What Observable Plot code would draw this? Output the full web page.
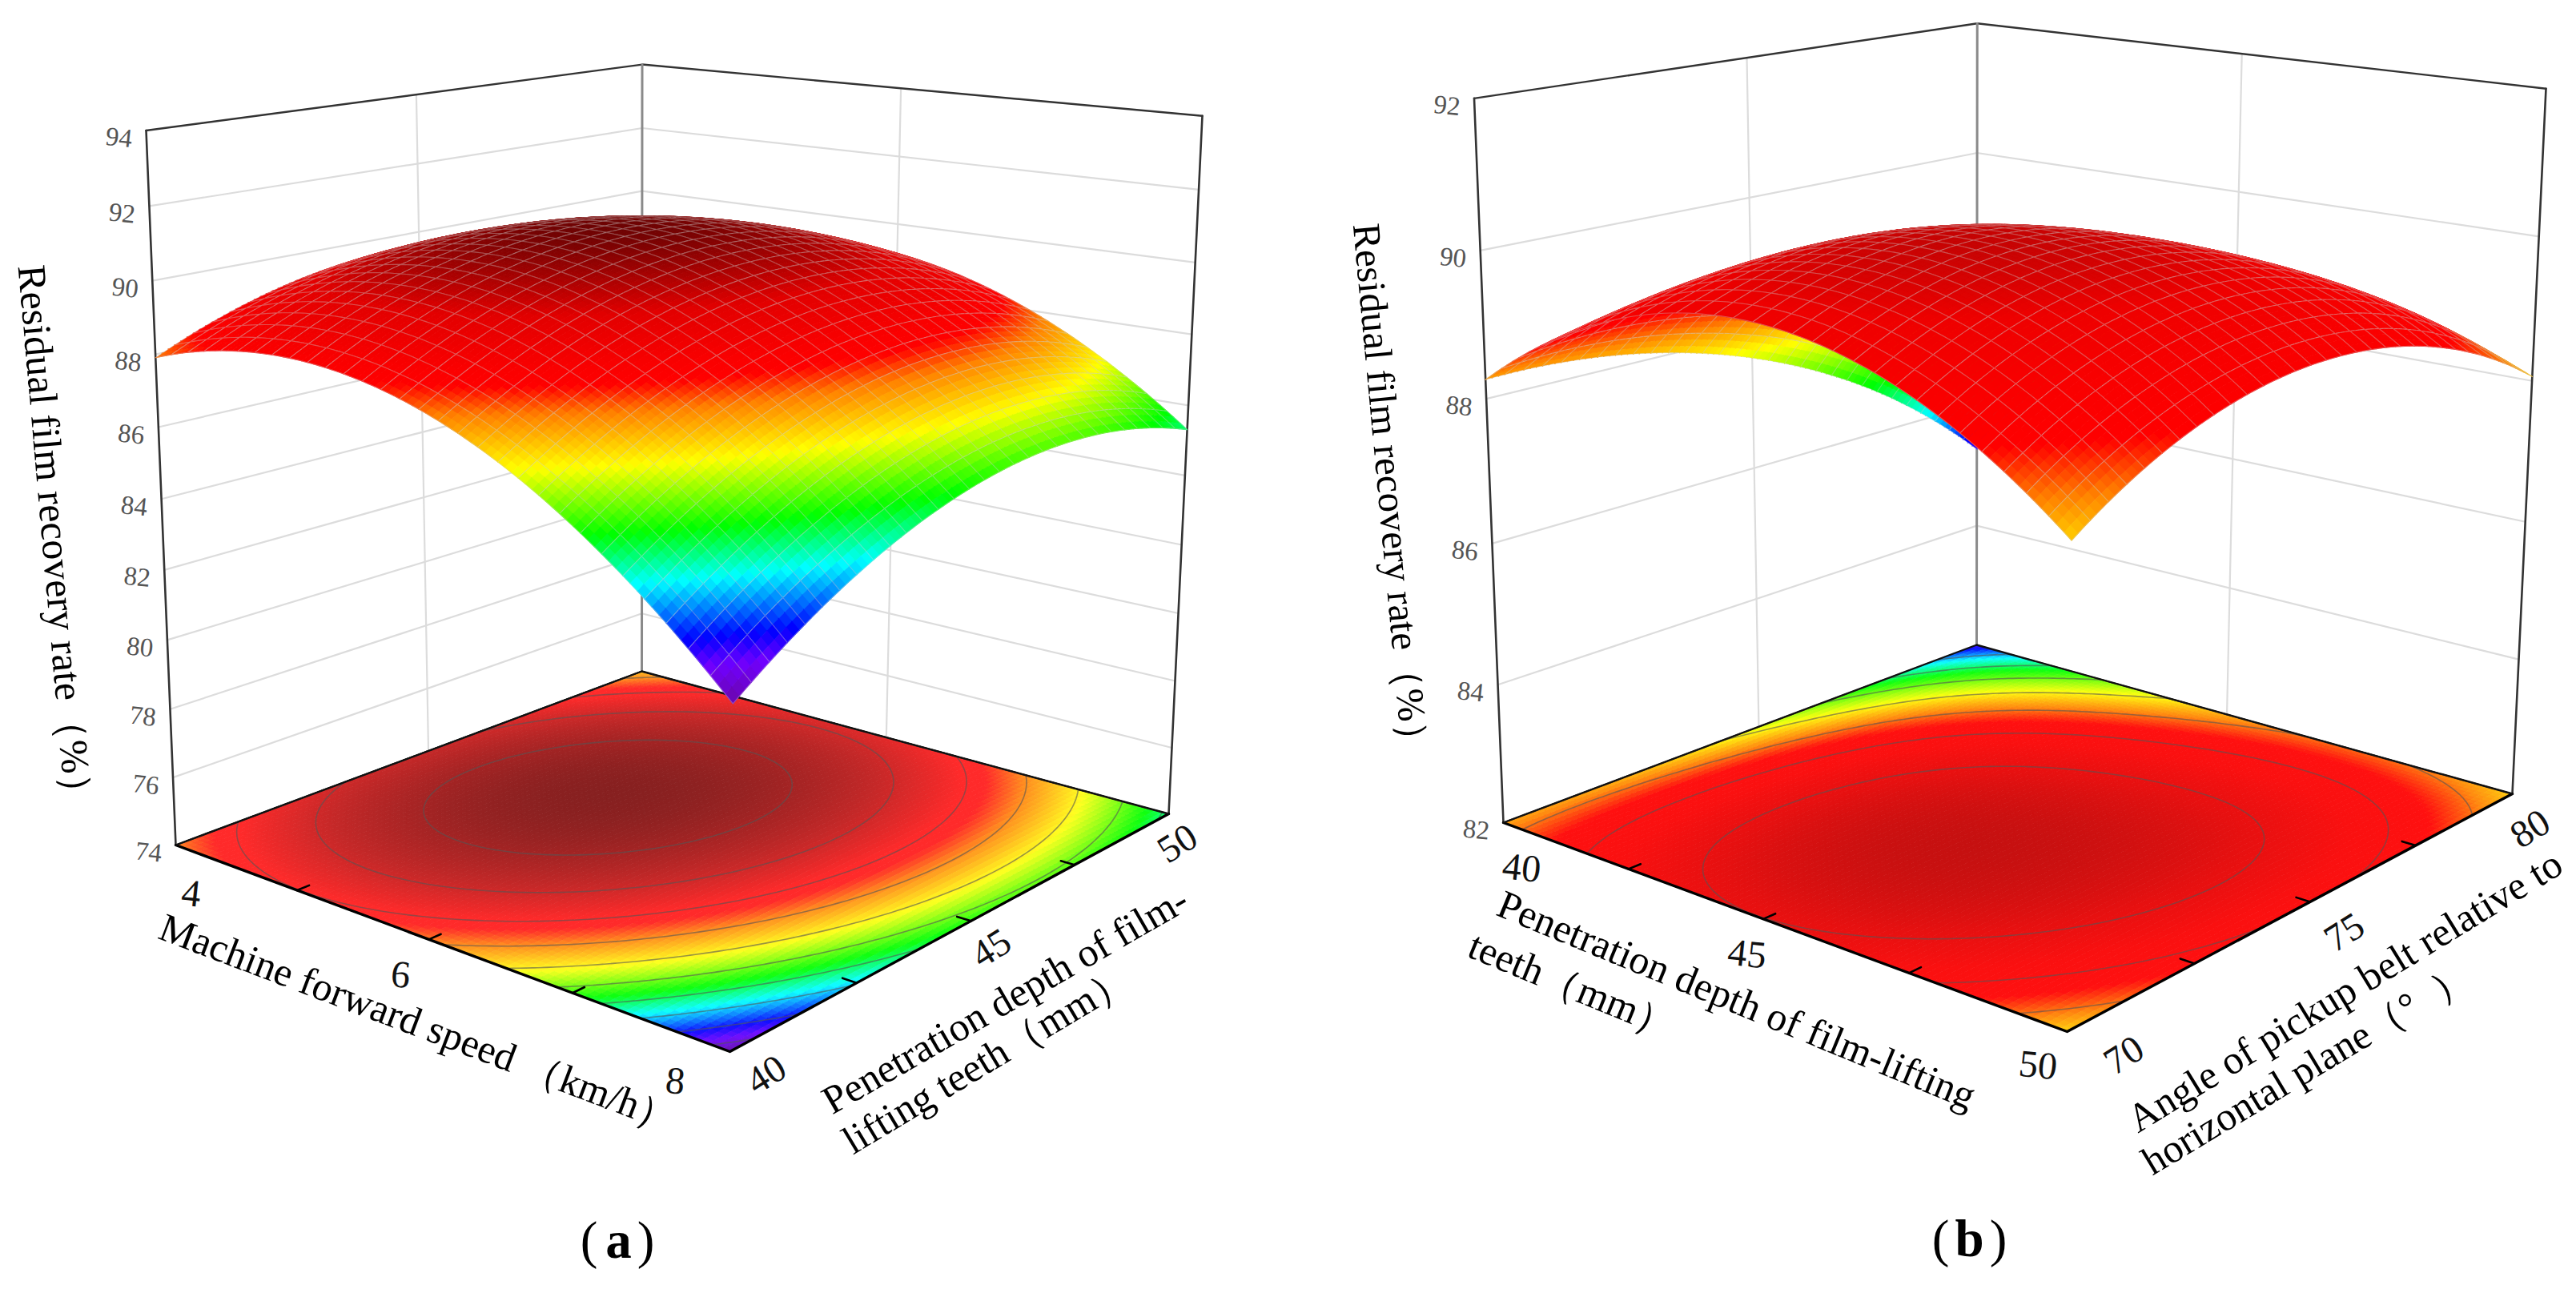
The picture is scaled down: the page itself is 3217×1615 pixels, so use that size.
<!DOCTYPE html>
<html><head><meta charset="utf-8">
<script src="https://cdn.jsdelivr.net/npm/d3@7"></script>
<script src="https://cdn.jsdelivr.net/npm/@observablehq/plot@0.6"></script>
<style>
html,body{margin:0;padding:0;background:#fff}
#page{display:flex;width:3217px;height:1615px;overflow:hidden}
svg{display:block;background:#fff}
</style></head><body><div id="page"></div>
<script>
// ---- values ----
const speedTicks=[4,6,8], depthTicks=[40,45,50], angleTicks=[70,75,80];
const rateTicksA=[74,76,78,80,82,84,86,88,90,92,94];
const rateTicksB=[82,84,86,88,90,92];
// response at the floor tick crossings: rows = x axis ticks (low→high), columns = y axis ticks (low→high)
const surfaceA=[
 [87.91,89.24,89.60,89.02,87.47],
 [88.63,90.16,90.72,90.33,88.98],
 [87.99,89.71,90.47,90.28,89.12],
 [85.98,87.90,88.85,88.86,87.90],
 [82.61,84.72,85.87,86.07,85.31]];
const surfaceB=[
 [88.26,88.15,87.65,86.72,85.26],
 [89.44,89.80,89.60,88.80,87.15],
 [89.79,90.33,90.25,89.55,88.22],
 [89.32,90.04,90.14,89.65,88.55],
 [88.02,88.92,89.20,88.92,88.06]];
const contourLevelsA=[90.25,89.45,88.65,87.85,87.05,86.25,85.45,84.65,83.85,83.05];
const contourLevelsB=[89.8,89.15,88.5,87.85,87.2,86.55,85.9];
const colourStopsA=[82.5,83.3,83.8,84.85,85.75,86.95,87.9,88.4,88.7,89.6,90.8];
const colourStopsB=[85.0,85.3,85.5,86.1,86.8,87.8,88.4,88.85,89.4,89.9,90.45];
const surfaceColoursA=["#6a089a","#7000ff","#0000ff","#00ffff","#00ff00","#ffff00","#ff8000","#ff0000","#fa0000","#e20000","#6e0404"];
const floorColoursA=["#6a18a0","#7010ff","#1010ff","#10ffff","#10ff10","#ffff20","#ff8a20","#ff2a2a","#ff2a2a","#c62828","#872020"];
const surfaceColoursB=["#6a089a","#3000ff","#0000ff","#00ffff","#00ff00","#ffff00","#ff8000","#ff0000","#f80000","#ee0000","#c00505"];
const floorColoursB=["#6a18a0","#3010ff","#0818ff","#10ffff","#10ff10","#ffff10","#ff8a10","#ff1010","#fa1010","#e61010","#c21010"];

const serif="Liberation Serif";

// camera calibration: frame corners of each box on the page
function camera(f){
  const [x0,y0]=f.left,[x1,y1]=f.front,[x2,y2]=f.right,[x3,y3]=f.back;
  const dx1=x1-x2,dx2=x3-x2,sx=x0-x1+x2-x3,dy1=y1-y2,dy2=y3-y2,sy=y0-y1+y2-y3;
  const den=dx1*dy2-dx2*dy1;
  const g=(sx*dy2-dx2*sy)/den,h=(dx1*sy-sx*dy1)/den;
  const a=x1*(1+g)-x0,b=x3*(1+h)-x0,d=y1*(1+g)-y0,e=y3*(1+h)-y0;
  const fl=(u,v)=>[a*u+b*v+x0,d*u+e*v+y0,g*u+h*v+1];
  const L=fl(0,0),R=fl(1,1),B=fl(0,1);
  const [lx,ly]=f.leftTop,[rx,ry]=f.rightTop,[bx,by]=f.backTop;
  const c1=lx*L[2]-L[0],c2=rx*R[2]-R[0];
  const r=(c1-c2)/(rx-lx);
  const p=c1+lx*r;
  const q=((ly*(L[2]+r)-L[1])+(ry*(R[2]+r)-R[1])+(by*(B[2]+r)-B[1]))/3;
  return (u,v,t)=>{const [X,Y,W]=fl(u,v);const w=W+r*t;return [(X+p*t)/w,(Y+q*t)/w];};
}
const lagrange=(i,s)=>{let o=1;for(let j=0;j<5;j++)if(j!==i)o*=(s-j)/(i-j);return o;};

function panel(o){
  const cam=camera(o.frame);
  const tOf=z=>(z-o.rateTicks[0])/(o.rateTicks[o.rateTicks.length-1]-o.rateTicks[0]);
  const surfColour=d3.scaleLinear().domain(o.stops).range(o.surfaceColours).clamp(true);
  const floorColour=d3.scaleLinear().domain(o.stops).range(o.floorColours).clamp(true);
  const N=30,S=3,M=N*S;
  const basis=d3.range(M+1).map(k=>d3.range(5).map(i=>lagrange(i,4*k/M)));
  const grid=d3.range(M+1).map(a=>d3.range(M+1).map(b=>{
    let s=0;for(let i=0;i<5;i++)for(let j=0;j<5;j++)s+=o.table[i][j]*basis[a][i]*basis[b][j];return s;}));
  const paths=[];let id=0;
  const poly=(pts,fill,stroke)=>{id++;for(const [x,y] of pts)paths.push({x,y,id,fill,stroke});};
  // floor
  const floor=[];let fid=0;
  for(let i=0;i<M;i++)for(let j=0;j<M;j++){
    const c=floorColour((grid[i][j]+grid[i+1][j]+grid[i][j+1]+grid[i+1][j+1])/4);
    fid++;
    for(const [a,b] of [[i,j],[i+1,j],[i+1,j+1],[i,j+1]]){const [x,y]=cam(a/M,b/M,0);floor.push({x,y,id:fid,fill:c,stroke:c});}
  }
  // contours on the floor
  const n=M+1,flat=new Float64Array(n*n);
  for(let a=0;a<n;a++)for(let b=0;b<n;b++)flat[a+b*n]=grid[a][b];
  const contourLines=[];let cid=0;
  for(const c of d3.contours().size([n,n]).thresholds(o.levels)(flat))
    for(const polygon of c.coordinates)for(const ring of polygon){
      cid++;
      for(const [cx,cy] of ring){
        const [x,y]=cam(Math.min(1,Math.max(0,(cx-.5)/(n-1))),Math.min(1,Math.max(0,(cy-.5)/(n-1))),0);
        contourLines.push({x,y,id:cid});
      }
    }
  // surface, back to front, each coarse cell followed by its mesh outline
  const P=(a,b)=>cam(a/M,b/M,tOf(grid[a][b]));
  const mesh=o.meshColour;
  for(let ci=0;ci<N;ci++)for(let cj=N-1;cj>=0;cj--){
    for(let si=0;si<S;si++)for(let sj=S-1;sj>=0;sj--){
      const i=ci*S+si,j=cj*S+sj;
      const c=surfColour((grid[i][j]+grid[i+1][j]+grid[i][j+1]+grid[i+1][j+1])/4);
      poly([P(i,j),P(i+1,j),P(i+1,j+1),P(i,j+1)],c,c);
    }
    const i0=ci*S,j0=cj*S,ring=[];
    for(let k=0;k<S;k++)ring.push(P(i0+k,j0));
    for(let k=0;k<S;k++)ring.push(P(i0+S,j0+k));
    for(let k=0;k<S;k++)ring.push(P(i0+S-k,j0+S));
    for(let k=0;k<=S;k++)ring.push(P(i0,j0+S-k));
    poly(ring,"none",mesh);
  }
  // box lines
  const seg=(...pts)=>pts.map(([u,v,t])=>{const [x,y]=cam(u,v,t);return {x,y};});
  const lineOf=(pts,stroke,w)=>Plot.line(seg(...pts),{x:"x",y:"y",stroke,strokeWidth:w,strokeLinejoin:"round"});
  const marks=[];
  const wall="#dcdcdc";
  for(const z of o.rateTicks.slice(1,-1)){const t=tOf(z);marks.push(lineOf([[0,0,t],[0,1,t],[1,1,t]],wall,2.2));}
  marks.push(lineOf([[0,.5,0],[0,.5,1]],wall,2.2),lineOf([[.5,1,0],[.5,1,1]],wall,2.2));
  marks.push(lineOf([[0,0,1],[0,1,1],[1,1,1]],"#333",2.4));
  marks.push(lineOf([[0,0,0],[0,0,1]],"#333",2.6),lineOf([[1,1,0],[1,1,1]],"#333",2.6));
  marks.push(lineOf([[0,1,0],[0,1,1]],"#8a8a8a",3));
  const sty={x:"x",y:"y",z:"id",fill:"fill",stroke:"stroke",strokeWidth:1,strokeLinejoin:"round"};
  marks.push(Plot.line(floor,sty));
  marks.push(Plot.line(contourLines,{x:"x",y:"y",z:"id",stroke:"#555",strokeOpacity:.6,strokeWidth:1.6}));
  marks.push(lineOf([[0,0,0],[1,0,0],[1,1,0]],"#000",3.4),lineOf([[0,0,0],[0,1,0],[1,1,0]],"#111",2.4));
  for(const f of [.25,.5,.75]){
    marks.push(lineOf([[f,0,0],[f,.022,0]],"#000",2.6),lineOf([[1,f,0],[.978,f,0]],"#000",2.6));
  }
  marks.push(Plot.line(paths,{...sty,strokeWidth:1.1}));
  // labels
  const at=(u,v,t)=>{const [x,y]=cam(u,v,t);return {x,y};};
  const zLab=o.rateTicks.map(z=>({...at(0,0,tOf(z)),text:String(z)}));
  marks.push(Plot.text(zLab,{x:"x",y:"y",text:"text",dx:-34,dy:9,rotate:6,fontSize:33,fontFamily:serif,fill:"#555"}));
  const uLab=o.uTicks.map((k,i)=>({...at(o.uLabel[i],o.uLabelV,0),text:String(k)}));
  marks.push(Plot.text(uLab,{x:"x",y:"y",text:"text",rotate:6,fontSize:48,fontFamily:serif,fill:"#111"}));
  const vLab=o.vTicks.map((k,i)=>({...at(o.vLabelU,o.vLabel(i/2),0),text:String(k)}));
  marks.push(Plot.text(vLab,{x:"x",y:"y",text:"text",dx:o.vLabelDx,rotate:-32,fontSize:48,fontFamily:serif,fill:"#111"}));
  for(const t of o.titles)
    marks.push(Plot.text([t],{x:"x",y:"y",text:"text",rotate:t.rotate,fontSize:t.size,fontFamily:serif,fill:"#000"}));
  for(const t of o.caption)
    marks.push(Plot.text([t],{x:"x",y:"y",text:"text",fontSize:65,fontFamily:serif,fontWeight:t.bold?"bold":"normal",fill:"#000"}));
  const W=o.x1-o.x0;
  return Plot.plot({width:W,height:1615,margin:0,
    x:{axis:null,domain:[o.x0,o.x1],range:[0,W]},
    y:{axis:null,domain:[0,1615],range:[0,1615]},
    color:{type:"identity"},style:{background:"#fff"},marks});
}

const page=document.getElementById("page");
page.append(panel({
  x0:0,x1:1608,table:surfaceA,rateTicks:rateTicksA,uTicks:speedTicks,vTicks:depthTicks,levels:contourLevelsA,
  stops:colourStopsA,surfaceColours:surfaceColoursA,floorColours:floorColoursA,meshColour:"rgba(205,205,205,.38)",
  frame:{left:[219,1055],front:[911,1313],right:[1459,1016],back:[801,838],leftTop:[182,167],rightTop:[1501,154],backTop:[801,68]},
  uLabel:[.15,.55,1],uLabelV:-.1,vLabelU:1.08,vLabel:f=>f-.011-.07*f,vLabelDx:-14,
  titles:[
   {x:68,y:673,rotate:85,size:50,text:"Residual film recovery rate（%）"},
   {x:522,y:1278,rotate:20.8,size:50,text:"Machine forward speed （km/h）"},
   {x:1255,y:1249,rotate:-30,size:50,text:"Penetration depth of film-"},
   {x:1232,y:1323,rotate:-31,size:50,text:"lifting teeth（mm）"}],
  caption:[{x:735,y:1550,text:"("},{x:772,y:1550,text:"a",bold:true},{x:806,y:1550,text:")"}]
}),panel({
  x0:1608,x1:3217,table:surfaceB,rateTicks:rateTicksB,uTicks:depthTicks,vTicks:angleTicks,levels:contourLevelsB,
  stops:colourStopsB,surfaceColours:surfaceColoursB,floorColours:floorColoursB,meshColour:"rgba(205,205,205,.38)",
  frame:{left:[1877,1027],front:[2581,1288],right:[3137,991],back:[2468,805],leftTop:[1840.5,126],rightTop:[3179,111],backTop:[2469,25]},
  uLabel:[.14,.56,1.03],uLabelV:-.09,vLabelU:1.1,vLabel:f=>f+.0035-.09*f,vLabelDx:-15,
  titles:[
   {x:1736,y:614,rotate:84.7,size:49,text:"Residual film recovery rate（%）"},
   {x:2168,y:1249,rotate:22.4,size:50,text:"Penetration depth of film-lifting"},
   {x:1963,y:1231,rotate:22.4,size:50,text:"teeth（mm）"},
   {x:2928,y:1238,rotate:-31.5,size:50,text:"Angle of pickup belt relative to"},
   {x:2880,y:1334,rotate:-31,size:50,text:"horizontal plane（°  ）"}],
  caption:[{x:2423,y:1548,text:"("},{x:2459,y:1548,text:"b",bold:true},{x:2495,y:1548,text:")"}]
}));
</script></body></html>
